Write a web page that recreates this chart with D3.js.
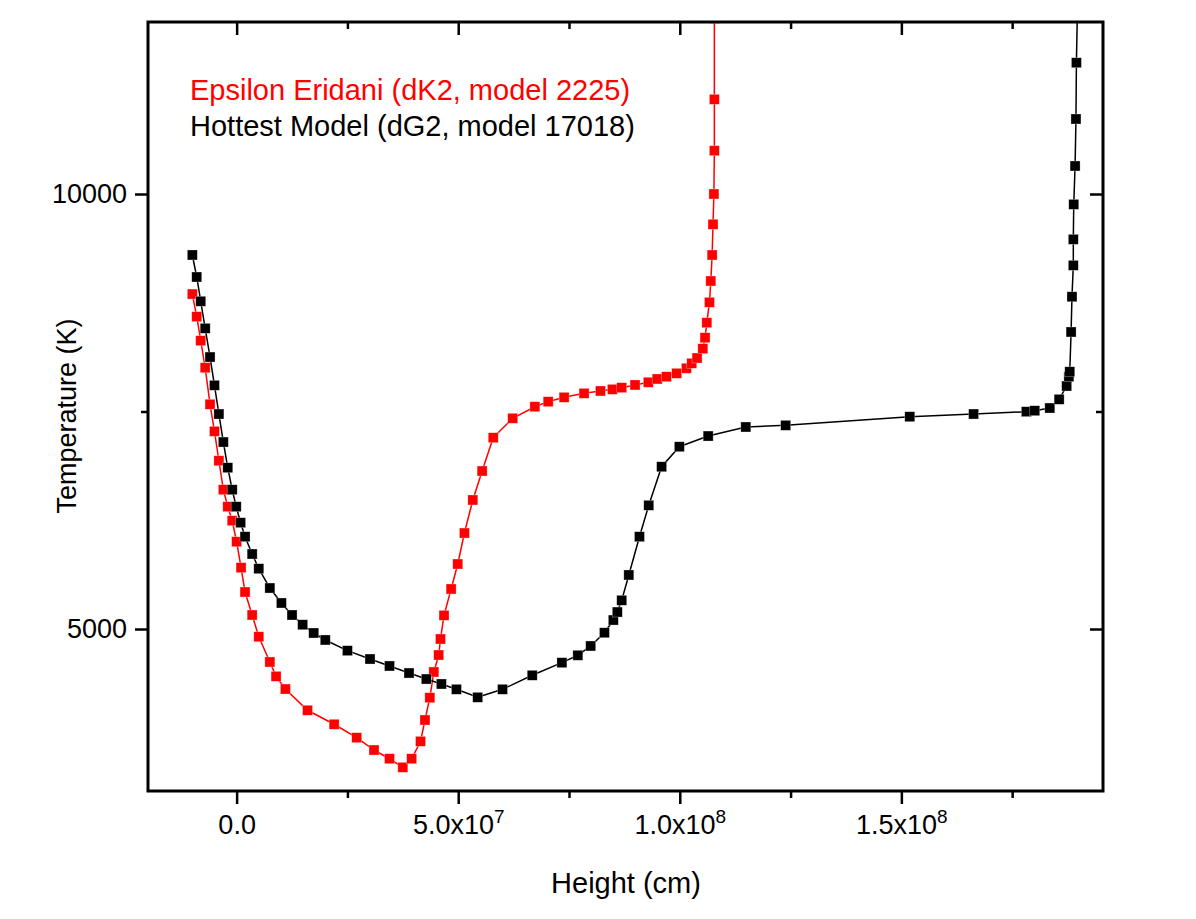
<!DOCTYPE html>
<html>
<head>
<meta charset="utf-8">
<script src="https://cdn.jsdelivr.net/npm/d3@7"></script>
<style>
  body { margin: 0; background: #fff; }
  svg { font-family: "Liberation Sans", Arial, sans-serif; }
</style>
</head>
<body>
<div id="chart"></div>
<script>
// heights in units of 1e7 cm, temperatures in K
const redHeight = [-1.00, -0.90, -0.81, -0.71, -0.60, -0.50, -0.40, -0.30, -0.20, -0.10, 0.00, 0.10,
  0.19, 0.35, 0.50, 0.75, 0.89, 1.10, 1.60, 2.20, 2.71, 3.10, 3.45, 3.75, 3.95, 4.15, 4.25, 4.36,
  4.45, 4.56, 4.60, 4.68, 4.84, 4.99, 5.14, 5.33, 5.54, 5.79, 6.23, 6.73, 7.03, 7.39, 7.84, 8.21,
  8.48, 8.69, 8.99, 9.29, 9.49, 9.70, 9.93, 10.15, 10.27, 10.39, 10.52, 10.57, 10.61, 10.67, 10.70,
  10.73, 10.75, 10.77, 10.78, 10.78, 10.78];
const redTemp = [8850, 8590, 8314, 8003, 7583, 7272, 6934, 6601, 6406, 6245, 6003, 5705,
  5425, 5161, 4911, 4621, 4456, 4310, 4066, 3905, 3751, 3609, 3509, 3410, 3509, 3709, 3954, 4210,
  4506, 4701, 4885, 5157, 5460, 5747, 6103, 6483, 6816, 7199, 7422, 7555, 7613, 7663, 7709, 7736,
  7755, 7774, 7805, 7836, 7874, 7900, 7939, 7997, 8054, 8115, 8222, 8348, 8521, 8755, 9000,
  9299, 9652, 10000, 10498, 11088, 12020];

const blackHeight = [-1.00, -0.90, -0.81, -0.71, -0.60, -0.50, -0.40, -0.30, -0.20, -0.10, -0.01, 0.09,
  0.19, 0.35, 0.50, 0.75, 1.01, 1.25, 1.49, 1.74, 2.00, 2.50, 3.01, 3.45, 3.89, 4.28, 4.62, 4.96,
  5.44, 6.00, 6.67, 7.34, 7.70, 7.99, 8.30, 8.50, 8.59, 8.69, 8.85, 9.09, 9.30, 9.59, 9.99, 10.64,
  11.49, 12.39, 15.19, 16.63, 17.82, 18.01, 18.35, 18.56, 18.73, 18.78, 18.80, 18.83, 18.85, 18.88,
  18.88, 18.89, 18.92, 18.94, 18.95, 18.98];
const blackTemp = [9299, 9046, 8767, 8456, 8126, 7801, 7471, 7149, 6854, 6601, 6406, 6222,
  6061, 5862, 5693, 5471, 5299, 5161, 5049, 4954, 4874, 4751, 4655, 4575, 4494, 4425, 4368, 4307,
  4215, 4307, 4468, 4613, 4698, 4805, 4957, 5103, 5195, 5330, 5621, 6061, 6422, 6865, 7095, 7218,
  7322, 7341, 7440, 7471, 7498, 7509, 7540, 7640, 7793, 7900, 7957, 8414, 8819, 9180,
  9479, 9881, 10322, 10862, 11509, 12300];

const xMajor = [0, 5, 10, 15];
const xMajorLabels = [["0.0", ""], ["5.0x10", "7"], ["1.0x10", "8"], ["1.5x10", "8"]];
const xMinor = [2.5, 7.5, 12.5, 17.5];
const yMajor = [5000, 10000];
const yMinor = [7500];

const legendNames = ["Epsilon Eridani (dK2, model 2225)", "Hottest Model (dG2, model 17018)"];
const colors = ["#ff0000", "#000000"];

const width = 1196, height = 919;
const margin = { top: 22, right: 93, bottom: 128, left: 148 };
const iw = width - margin.left - margin.right,
  ih = height - margin.top - margin.bottom;

const svg = d3.select("#chart")
  .append("svg")
  .attr("width", width)
  .attr("height", height);

const x = d3.scaleLinear().domain([-2.0, 19.55]).range([0, iw]);
const y = d3.scaleLinear().domain([3138, 11977]).range([ih, 0]);

const g = svg.append("g").attr("transform", `translate(${margin.left},${margin.top})`);

svg.append("defs").append("clipPath").attr("id", "plot-clip")
  .append("rect").attr("width", iw).attr("height", ih);

function styleAxis(sel) {
  sel.select(".domain").remove();
  sel.selectAll(".tick line").attr("stroke", "#000").attr("stroke-width", 2.5);
  sel.selectAll(".tick text").attr("fill", "#000").attr("font-size", 27);
}

// bottom axis
const xAxis = g.append("g")
  .attr("transform", `translate(0,${ih})`)
  .call(d3.axisBottom(x).tickValues(xMajor).tickSize(13).tickPadding(11).tickFormat(""))
  .call(styleAxis);
xAxis.selectAll(".tick text").each(function (d, i) {
  const t = d3.select(this);
  t.append("tspan").text(xMajorLabels[i][0]);
  if (xMajorLabels[i][1]) {
    t.append("tspan").attr("dy", -11).attr("font-size", 19).text(xMajorLabels[i][1]);
  }
});
g.append("g")
  .attr("transform", `translate(0,${ih})`)
  .call(d3.axisBottom(x).tickValues(xMinor).tickSize(7).tickFormat(""))
  .call(styleAxis);

// top axis (ticks inward)
g.append("g").call(d3.axisTop(x).tickValues(xMajor).tickSize(-13).tickFormat("")).call(styleAxis);
g.append("g").call(d3.axisTop(x).tickValues(xMinor).tickSize(-7).tickFormat("")).call(styleAxis);

// left axis
g.append("g")
  .call(d3.axisLeft(y).tickValues(yMajor).tickSize(13).tickPadding(8).tickFormat(d3.format("d")))
  .call(styleAxis);
g.append("g").call(d3.axisLeft(y).tickValues(yMinor).tickSize(7).tickFormat("")).call(styleAxis);

// right axis (ticks inward)
g.append("g").attr("transform", `translate(${iw},0)`)
  .call(d3.axisRight(y).tickValues(yMajor).tickSize(-13).tickFormat("")).call(styleAxis);
g.append("g").attr("transform", `translate(${iw},0)`)
  .call(d3.axisRight(y).tickValues(yMinor).tickSize(-7).tickFormat("")).call(styleAxis);

// series
const series = [
  { h: redHeight, t: redTemp, color: colors[0] },
  { h: blackHeight, t: blackTemp, color: colors[1] }
];

const plot = g.append("g").attr("clip-path", "url(#plot-clip)");
const line = d3.line().x(d => x(d[0])).y(d => y(d[1]));
const sq = 10;

series.forEach(s => {
  const pts = s.h.map((h, i) => [h, s.t[i]]);
  plot.append("path")
    .datum(pts)
    .attr("fill", "none")
    .attr("stroke", s.color)
    .attr("stroke-width", 1.5)
    .attr("d", line);
  plot.append("g")
    .selectAll("rect")
    .data(pts)
    .join("rect")
    .attr("x", d => x(d[0]) - sq / 2)
    .attr("y", d => y(d[1]) - sq / 2)
    .attr("width", sq)
    .attr("height", sq)
    .attr("fill", s.color)
    .attr("stroke", "#fff")
    .attr("stroke-opacity", 0.5)
    .attr("stroke-width", 0.6);
});

// frame
g.append("rect")
  .attr("width", iw)
  .attr("height", ih)
  .attr("fill", "none")
  .attr("stroke", "#000")
  .attr("stroke-width", 3);

// legend text
legendNames.forEach((name, i) => {
  g.append("text")
    .attr("x", 42)
    .attr("y", 78 + i * 36)
    .attr("fill", colors[i])
    .attr("font-size", 29)
    .text(name);
});

// axis titles
svg.append("text")
  .attr("x", 626)
  .attr("y", 893)
  .attr("text-anchor", "middle")
  .attr("font-size", 29)
  .text("Height (cm)");

svg.append("text")
  .attr("transform", `translate(76,416) rotate(-90)`)
  .attr("text-anchor", "middle")
  .attr("font-size", 27)
  .text("Temperature (K)");
</script>
</body>
</html>
